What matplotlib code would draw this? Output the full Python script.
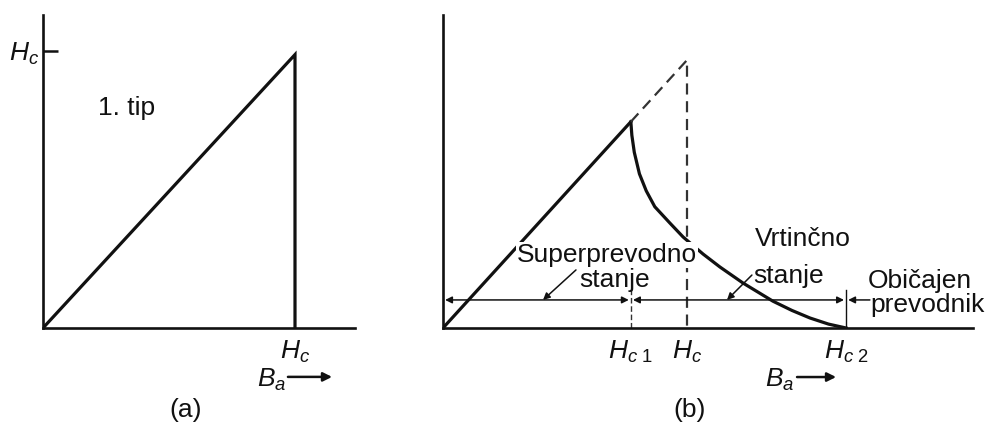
import numpy as np
import matplotlib
matplotlib.use("Agg")
import matplotlib.pyplot as plt

plt.rcParams["font.family"] = ["Liberation Sans", "DejaVu Sans"]
plt.rcParams["mathtext.fontset"] = "custom"
plt.rcParams["mathtext.rm"] = "Liberation Sans"
plt.rcParams["mathtext.it"] = "Liberation Sans:italic"

INK = "#111111"
FS = 19

# (a) tip 1: magnetizacija raste linearno do Hc, nato pade na nič
HC_A = 1.0
PEAK_A = 1.085
YTICK_A = 1.1
LINE_A_X = [0.0, HC_A, HC_A]
LINE_A_Y = [0.0, PEAK_A, 0.0]

# (b) tip 2: polja v enotah Hc
HC1 = 0.77
HC = 1.0
HC2 = 1.652
SLOPE_B = 1.098
LINE_B_X = [0.0, HC1]
LINE_B_Y = [0.0, SLOPE_B * HC1]
DASH_B_X = [HC1, HC, HC]
DASH_B_Y = [SLOPE_B * HC1, SLOPE_B * HC, 0.0]
# vrtinčno stanje: padanje od Hc1 do Hc2
CURVE_X = [0.770, 0.774, 0.784, 0.805, 0.833, 0.868, 0.930, 0.984,
           1.066, 1.135, 1.230, 1.352, 1.430, 1.504, 1.580, 1.652]
CURVE_Y = [0.844, 0.790, 0.720, 0.632, 0.562, 0.497, 0.430, 0.373,
           0.303, 0.250, 0.184, 0.110, 0.072, 0.041, 0.016, 0.000]
DIM_Y = 0.115        # višina puščic za območja
TICK_TOP = 0.155
NORMAL_END = 1.758


def frame(ax, xmax, ymax):
    ax.set_xlim(0, xmax)
    ax.set_ylim(0, ymax)
    for s in ("top", "right"):
        ax.spines[s].set_visible(False)
    for s in ("left", "bottom"):
        ax.spines[s].set_linewidth(1.9)
        ax.spines[s].set_color(INK)
    ax.patch.set_alpha(0)


def ba_arrow(ax, x_text, y_text, x0, x1, y):
    ax.text(x_text, y_text, r"$B_a$", fontsize=FS, color=INK, va="baseline")
    ax.annotate("", xy=(x1, y), xytext=(x0, y), annotation_clip=False,
                arrowprops=dict(arrowstyle="-|>", lw=1.8, color=INK,
                                mutation_scale=13, shrinkA=0, shrinkB=0))


fig = plt.figure(figsize=(9.87, 4.29), dpi=100)
W, H = 987, 429

# ---- (a)
ua = 252.0
ax = fig.add_axes([43 / W, (H - 328) / H, 312 / W, 313 / H])
frame(ax, 312 / ua, 313 / ua)
ax.plot(LINE_A_X, LINE_A_Y, color=INK, lw=2.3, solid_joinstyle="miter")
ax.set_yticks([YTICK_A], [r"$H_c$"])
ax.tick_params(axis="y", direction="in", length=10.5, width=1.8, pad=3,
               labelsize=FS, colors=INK)
ax.set_xticks([HC_A], [r"$H_c$"])
ax.tick_params(axis="x", length=0, pad=8, labelsize=FS, colors=INK)
ax.text(0.218, 0.845, "1. tip", fontsize=FS, color=INK, va="baseline")
ba_arrow(ax, 0.849, -0.234, 0.972, 1.147, -0.194)
fig.text(186 / W, 1 - 410 / H, "(a)", fontsize=FS, color=INK,
         ha="center", va="center")

# ---- (b)
ub = 244.0
bx = fig.add_axes([443 / W, (H - 328) / H, 530 / W, 313 / H])
frame(bx, 530 / ub, 313 / ub)
bx.set_yticks([])
bx.plot(LINE_B_X, LINE_B_Y, color=INK, lw=2.3)
bx.plot(CURVE_X, CURVE_Y, color=INK, lw=2.3, solid_joinstyle="round")
bx.plot(DASH_B_X, DASH_B_Y, color="#333333", lw=1.6, dashes=(5, 3))
bx.plot([HC1, HC1], [0, TICK_TOP], color="#333333", lw=1.0, dashes=(4, 2))
bx.plot([HC2, HC2], [0, TICK_TOP], color=INK, lw=1.0)
bx.set_xticks([HC1, HC, HC2],
              [r"$H_{c\ \mathrm{1}}$", r"$H_c$", r"$H_{c\ \mathrm{2}}$"])
bx.tick_params(axis="x", length=0, pad=8, labelsize=FS, colors=INK)

dim = dict(lw=1.1, color=INK, mutation_scale=10, shrinkA=1.5, shrinkB=1.5)
bx.annotate("", xy=(HC1, DIM_Y), xytext=(0, DIM_Y),
            arrowprops=dict(arrowstyle="<|-|>", **dim))
bx.annotate("", xy=(HC2, DIM_Y), xytext=(HC1, DIM_Y),
            arrowprops=dict(arrowstyle="<|-|>", **dim))
bx.annotate("", xy=(HC2, DIM_Y), xytext=(NORMAL_END, DIM_Y),
            annotation_clip=False, arrowprops=dict(arrowstyle="-|>", **dim))

bx.text(0.303, 0.270, "Superprevodno", fontsize=FS, color=INK, va="baseline",
        bbox=dict(facecolor="white", edgecolor="none", pad=0.5), zorder=3)
bx.text(0.557, 0.168, "stanje", fontsize=FS, color=INK, va="baseline")
bx.annotate("", xy=(0.410, DIM_Y), xytext=(0.545, 0.238),
            arrowprops=dict(arrowstyle="-|>", lw=1.1, color=INK,
                            mutation_scale=10, shrinkA=0, shrinkB=0))
bx.text(1.279, 0.336, "Vrtinčno", fontsize=FS, color=INK, va="baseline")
bx.text(1.270, 0.184, "stanje", fontsize=FS, color=INK, va="baseline")
bx.annotate("", xy=(1.164, DIM_Y), xytext=(1.266, 0.217),
            arrowprops=dict(arrowstyle="-|>", lw=1.1, color=INK,
                            mutation_scale=10, shrinkA=0, shrinkB=0))
bx.text(1.742, 0.164, "Običajen", fontsize=FS, color=INK, va="baseline",
        clip_on=False)
bx.text(1.750, 0.066, "prevodnik", fontsize=FS, color=INK, va="baseline",
        clip_on=False)
ba_arrow(bx, 1.320, -0.242, 1.451, 1.611, -0.201)
fig.text(690 / W, 1 - 410 / H, "(b)", fontsize=FS, color=INK,
         ha="center", va="center")

fig.savefig("out.png", dpi=100, facecolor="white")
